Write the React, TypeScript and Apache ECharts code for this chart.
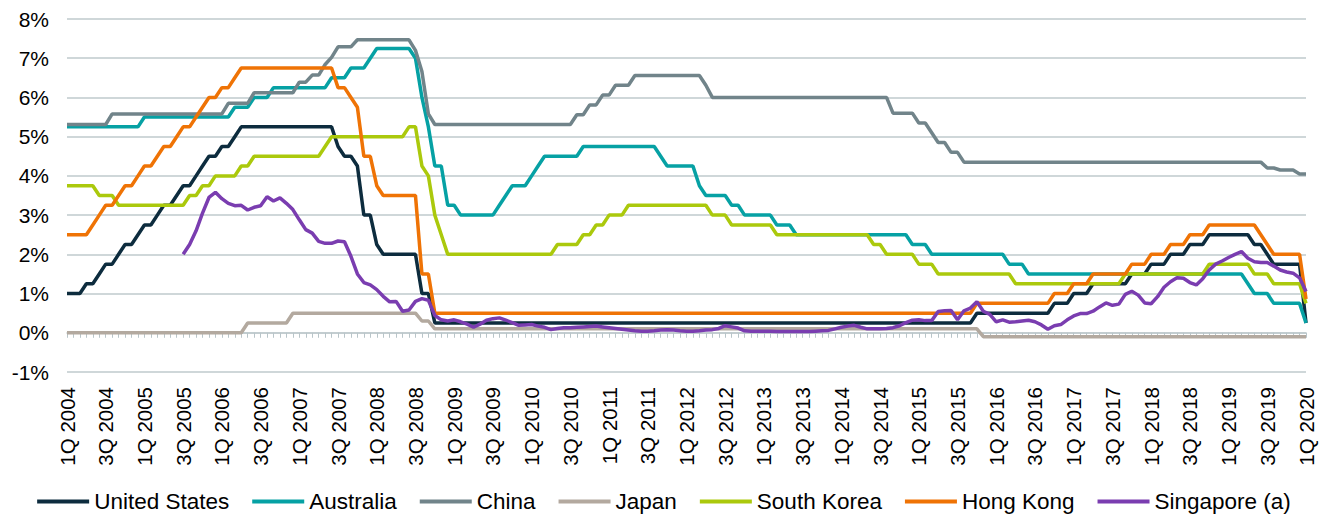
import React, { useEffect, useRef } from "react";
import * as echarts from "echarts";

// Monthly observations, March 2004 (1Q 2004) to March 2020 (1Q 2020)
const startYear = 2004;
const startMonth = 2; // March (0-based)
const monthCount = 193;

const seriesNames = [
  "United States",
  "Australia",
  "China",
  "Japan",
  "South Korea",
  "Hong Kong",
  "Singapore (a)",
];

const seriesColors = ["#0d2c3e", "#06a1a4", "#71848a", "#b3a99f", "#abc90c", "#ef7305", "#7a3db0"];

// Policy rates as [value %, number of consecutive months]
const usRuns = [
  [1.0, 3], [1.25, 2], [1.5, 1], [1.75, 2], [2.0, 1], [2.25, 2], [2.5, 1], [2.75, 2], [3.0, 1],
  [3.25, 2], [3.5, 1], [3.75, 2], [4.0, 1], [4.25, 1], [4.5, 2], [4.75, 2], [5.0, 1], [5.25, 15],
  [4.75, 1], [4.5, 2], [4.25, 1], [3.0, 2], [2.25, 1], [2.0, 6], [1.0, 2], [0.25, 84], [0.5, 12],
  [0.75, 3], [1.0, 3], [1.25, 6], [1.5, 3], [1.75, 3], [2.0, 3], [2.25, 3], [2.5, 7], [2.25, 2],
  [2.0, 1], [1.75, 5], [0.25, 1],
];

const australiaRuns = [
  [5.25, 12], [5.5, 14], [5.75, 3], [6.0, 3], [6.25, 9], [6.5, 3], [6.75, 3], [7.0, 1], [7.25, 6],
  [7.0, 1], [6.0, 1], [5.25, 1], [4.25, 2], [3.25, 2], [3.0, 6], [3.25, 1], [3.5, 1], [3.75, 3],
  [4.0, 1], [4.25, 1], [4.5, 6], [4.75, 12], [4.5, 1], [4.25, 5], [3.75, 1], [3.5, 4], [3.25, 2],
  [3.0, 5], [2.75, 3], [2.5, 18], [2.25, 3], [2.0, 12], [1.75, 3], [1.5, 34], [1.25, 1], [1.0, 3],
  [0.75, 5], [0.25, 1],
];

const chinaRuns = [
  [5.31, 7], [5.58, 18], [5.85, 4], [6.12, 7], [6.39, 2], [6.57, 2], [6.84, 1], [7.02, 1], [7.29, 3],
  [7.47, 9], [7.2, 1], [6.66, 1], [5.58, 1], [5.31, 22], [5.56, 2], [5.81, 2], [6.06, 2], [6.31, 3],
  [6.56, 11], [6.31, 1], [6.0, 28], [5.6, 4], [5.35, 2], [5.1, 1], [4.85, 2], [4.6, 2], [4.35, 47],
  [4.2, 2], [4.15, 3], [4.05, 2],
];

const japanRuns = [
  [0.0, 28], [0.25, 7], [0.5, 20], [0.3, 2], [0.1, 85], [-0.1, 51],
];

const southKoreaRuns = [
  [3.75, 5], [3.5, 3], [3.25, 11], [3.5, 2], [3.75, 2], [4.0, 4], [4.25, 2], [4.5, 11], [4.75, 1],
  [5.0, 12], [5.25, 2], [4.25, 1], [4.0, 1], [3.0, 1], [2.5, 1], [2.0, 17], [2.25, 4], [2.5, 2],
  [2.75, 2], [3.0, 3], [3.25, 13], [3.0, 3], [2.75, 7], [2.5, 15], [2.25, 2], [2.0, 5], [1.75, 3],
  [1.5, 12], [1.25, 17], [1.5, 13], [1.75, 7], [1.5, 3], [1.25, 5], [0.75, 1],
];

const hongKongRuns = [
  [2.5, 4], [2.75, 1], [3.0, 1], [3.25, 2], [3.5, 1], [3.75, 2], [4.0, 1], [4.25, 2], [4.5, 1],
  [4.75, 2], [5.0, 1], [5.25, 2], [5.5, 1], [5.75, 1], [6.0, 2], [6.25, 2], [6.5, 1], [6.75, 15],
  [6.25, 2], [6.0, 1], [5.75, 1], [4.5, 2], [3.75, 1], [3.5, 6], [1.5, 2], [0.5, 84], [0.75, 12],
  [1.0, 3], [1.25, 3], [1.5, 6], [1.75, 3], [2.0, 3], [2.25, 3], [2.5, 3], [2.75, 8], [2.5, 1],
  [2.25, 1], [2.0, 5], [0.86, 1],
];

// Singapore (a): series begins in September 2005
const singaporeValues = [
  null, null, null, null, null, null, null, null, null, null,
  null, null, null, null, null, null, null, null,
  2.0, 2.25, 2.6, 3.05, 3.45, 3.58, 3.42, 3.3, 3.24, 3.25,
  3.13, 3.2, 3.24, 3.47, 3.36, 3.44, 3.3, 3.14, 2.88, 2.63,
  2.54, 2.33, 2.28, 2.28, 2.34, 2.32, 1.95, 1.5, 1.28, 1.22,
  1.1, 0.93, 0.79, 0.8, 0.55, 0.58, 0.8, 0.87, 0.83, 0.44,
  0.33, 0.3, 0.33, 0.28, 0.22, 0.14, 0.22, 0.32, 0.36, 0.38,
  0.32, 0.26, 0.19, 0.2, 0.21, 0.17, 0.14, 0.08, 0.11, 0.13,
  0.13, 0.14, 0.15, 0.16, 0.17, 0.15, 0.13, 0.11, 0.09, 0.07,
  0.05, 0.04, 0.04, 0.05, 0.07, 0.08, 0.07, 0.05, 0.04, 0.04,
  0.05, 0.07, 0.08, 0.11, 0.18, 0.15, 0.12, 0.05, 0.04, 0.04,
  0.04, 0.04, 0.03, 0.03, 0.03, 0.03, 0.03, 0.03, 0.04, 0.05,
  0.06, 0.1, 0.14, 0.17, 0.19, 0.14, 0.1, 0.1, 0.1, 0.11,
  0.13, 0.18, 0.26, 0.32, 0.33, 0.31, 0.31, 0.54, 0.56, 0.57,
  0.33, 0.56, 0.63, 0.79, 0.55, 0.47, 0.28, 0.33, 0.27, 0.28,
  0.3, 0.32, 0.28, 0.2, 0.09, 0.18, 0.21, 0.33, 0.43, 0.49,
  0.49, 0.55, 0.66, 0.76, 0.7, 0.73, 0.98, 1.06, 0.96, 0.76,
  0.74, 0.92, 1.16, 1.3, 1.4, 1.39, 1.28, 1.22, 1.38, 1.6,
  1.75, 1.83, 1.92, 2.0, 2.07, 1.9, 1.81, 1.79, 1.79, 1.7,
  1.6, 1.55, 1.52, 1.4, 1.05,
];

function expandRuns(runs: number[][]): number[] {
  const out: number[] = [];
  for (const [v, n] of runs) for (let k = 0; k < n; k++) out.push(v);
  return out;
}

function buildCategories(): string[] {
  const cats: string[] = [];
  for (let i = 0; i < monthCount; i++) {
    const m = startMonth + i;
    const q = Math.floor((m % 12) / 3) + 1;
    const y = startYear + Math.floor(m / 12);
    cats.push(`${q}Q ${y}`);
  }
  return cats;
}

export default function App() {
  const ref = useRef<HTMLDivElement>(null);

  useEffect(() => {
    if (!ref.current) return;
    const chart = echarts.init(ref.current, undefined, { renderer: "svg" });
    const categories = buildCategories();
    const seriesData = [
      expandRuns(usRuns),
      expandRuns(australiaRuns),
      expandRuns(chinaRuns),
      expandRuns(japanRuns),
      expandRuns(southKoreaRuns),
      expandRuns(hongKongRuns),
      singaporeValues,
    ];
    const font = "'Liberation Sans', Arial, sans-serif";
    const gridColor = "#bfcacd";

    chart.setOption({
      animation: false,
      textStyle: { fontFamily: font },
      grid: { left: 67, right: 22, top: 19, bottom: 145, containLabel: false },
      legend: {
        data: seriesNames,
        top: 485,
        left: "center",
        icon: "rect",
        itemWidth: 52,
        itemHeight: 4,
        itemGap: 23,
        textStyle: { fontSize: 22.5, color: "#000", fontFamily: font },
      },
      xAxis: [
        {
          type: "category",
          data: categories,
          boundaryGap: false,
          axisLine: { show: false, onZero: false },
          axisTick: { show: false },
          axisLabel: {
            interval: 5,
            rotate: 90,
            fontSize: 20.5,
            color: "#000",
            margin: 15,
            fontFamily: font,
          },
          splitLine: { show: false },
        },
        {
          type: "category",
          data: categories,
          boundaryGap: false,
          position: "bottom",
          axisLine: { show: true, onZero: true, lineStyle: { color: gridColor, width: 1.5 } },
          axisTick: { show: true, interval: 0, length: 5, lineStyle: { color: "#b9c5c9", width: 1 } },
          axisLabel: { show: false },
          splitLine: { show: false },
        },
      ],
      yAxis: {
        type: "value",
        min: -1,
        max: 8,
        interval: 1,
        axisLine: { show: false },
        axisTick: { show: false },
        axisLabel: {
          formatter: "{value}%",
          fontSize: 21,
          color: "#000",
          margin: 18,
          fontFamily: font,
        },
        splitLine: { lineStyle: { color: gridColor, width: 1.6 } },
      },
      series: seriesNames.map((name, idx) => ({
        name,
        type: "line",
        xAxisIndex: 0,
        data: seriesData[idx],
        showSymbol: false,
        symbol: "none",
        connectNulls: false,
        color: seriesColors[idx],
        lineStyle: { width: 3.5, color: seriesColors[idx] },
        z: 3,
      })),
    });
    return () => chart.dispose();
  }, []);

  return (
    <div
      ref={ref}
      style={{ position: "absolute", left: 0, top: 0, width: 1328, height: 517 }}
    />
  );
}
